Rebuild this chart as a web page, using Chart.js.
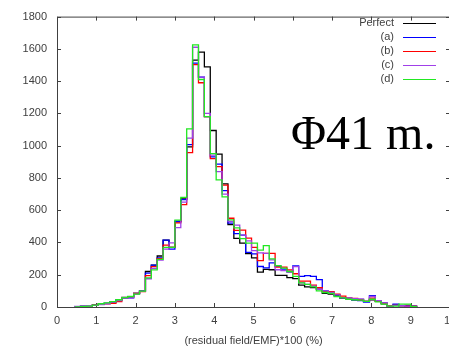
<!DOCTYPE html>
<html>
<head>
<meta charset="utf-8">
<script src="https://cdn.jsdelivr.net/npm/chart.js@4/dist/chart.umd.min.js"></script>
<style>
  html, body { margin: 0; padding: 0; background: #fff; overflow: hidden; }
  #wrap { width: 449px; height: 350px; overflow: hidden; position: relative; }
  canvas { display: block; }
</style>
</head>
<body>
<div id="wrap"><canvas id="c" width="470" height="350"></canvas></div>
<script>
// Left edges of the histogram bins (bin width 0.15)
const binStarts = [0.45,0.6,0.75,0.9,1.05,1.2,1.35,1.5,1.65,1.8,1.95,2.1,2.25,2.4,2.55,2.7,2.85,3.0,3.15,3.3,
  3.45,3.6,3.75,3.9,4.05,4.2,4.35,4.5,4.65,4.8,4.95,5.1,5.25,5.4,5.55,5.7,5.85,6.0,6.15,6.3,
  6.45,6.6,6.75,6.9,7.05,7.2,7.35,7.5,7.65,7.8,7.95,8.1,8.25,8.4,8.55,8.7,8.85,9.0];
const binEnd = 9.15;

const seriesLabels = ['Perfect', '(a)', '(b)', '(c)', '(d)'];

const perfect = [2,5,8,12,18,22,32,42,60,63, 85,100,220,260,316,414,370,530,670,992,
  1530,1580,1488,1094,947,763,510,425,396,331, 304,216,233,231,196,196,182,176,135,125,
  120,110,85,80,70,53,50,45,42,35, 45,35,20,6,12,8,10,5];
const seriesA = [2,8,8,12,18,22,30,42,55,57, 84,98,210,260,305,414,359,530,665,1006,
  1512,1425,1180,931,886,721,520,455,445,339, 329,251,243,274,253,235,220,255,190,195,
  190,170,100,90,75,57,55,45,40,30, 70,38,25,8,18,8,5,3];
const seriesB = [2,5,8,12,18,20,23,33,58,63, 85,95,195,250,300,384,369,522,635,957,
  1502,1390,1180,920,870,755,550,475,476,427, 370,288,333,333,247,247,230,206,160,160,
  135,120,95,95,80,67,55,53,45,35, 55,35,22,8,10,8,5,3];
const seriesC = [3,8,8,10,15,20,30,40,55,57, 80,98,175,240,290,359,398,492,650,1047,
  1610,1425,1200,941,839,700,530,508,445,410, 349,335,333,292,231,225,215,250,150,140,
  130,110,100,90,75,57,55,52,50,35, 65,40,25,6,10,8,5,3];
const seriesD = [0,3,5,12,20,25,33,45,58,65, 80,98,180,230,295,369,369,539,680,1104,
  1625,1410,1180,951,788,682,540,490,424,396, 396,353,380,298,257,241,220,190,150,140,
  125,100,90,85,65,57,48,45,42,35, 48,32,18,6,6,18,18,2];

const xTicks = [0,1,2,3,4,5,6,7,8,9,10];
const yTicks = [0,200,400,600,800,1000,1200,1400,1600,1800];
const xTitle = '(residual field/EMF)*100 (%)';
const bigLabel = 'Φ41 m.';

const colors = ['#000000', '#0000ff', '#ff0000', '#a040e8', '#22e822'];
const allSeries = [perfect, seriesA, seriesB, seriesC, seriesD];

function toSteps(vals) {
  const pts = [{x: binStarts[0], y: 0}];
  for (let i = 0; i < vals.length; i++) pts.push({x: binStarts[i], y: vals[i]});
  pts.push({x: binEnd, y: 0});
  return pts;
}

const datasets = allSeries.map((v, i) => ({
  label: seriesLabels[i],
  data: toSteps(v),
  borderColor: colors[i],
  borderWidth: 1.3,
  pointRadius: 0,
  fill: false,
  stepped: 'before',
  tension: 0,
  order: 5 - i
}));

const AXIS = '#404040';
const FONT = "'Liberation Sans', Arial, sans-serif";

const framePlugin = {
  id: 'frame',
  beforeDatasetsDraw(chart) {
    const {ctx, chartArea: a, scales: {x, y}} = chart;
    ctx.save();
    ctx.strokeStyle = AXIS;
    ctx.lineWidth = 1;
    ctx.beginPath();
    ctx.rect(a.left + 0.5, a.top + 0.5, a.right - a.left, a.bottom - a.top);
    ctx.stroke();
    ctx.beginPath();
    const tl = 4;
    xTicks.forEach(t => {
      const px = Math.round(x.getPixelForValue(t)) + 0.5;
      ctx.moveTo(px, a.bottom); ctx.lineTo(px, a.bottom - tl);
      ctx.moveTo(px, a.top); ctx.lineTo(px, a.top + tl);
    });
    yTicks.forEach(t => {
      const py = Math.round(y.getPixelForValue(t)) + 0.5;
      ctx.moveTo(a.left, py); ctx.lineTo(a.left + tl, py);
      ctx.moveTo(a.right, py); ctx.lineTo(a.right - tl, py);
    });
    ctx.stroke();
    ctx.restore();
  },
  afterDatasetsDraw(chart) {
    const {ctx} = chart;
    ctx.save();
    // legend
    ctx.font = '11px ' + FONT;
    ctx.textAlign = 'right';
    ctx.textBaseline = 'middle';
    seriesLabels.forEach((lab, i) => {
      const yy = 22.5 + 14 * i;
      ctx.fillStyle = AXIS;
      ctx.fillText(lab, 394, yy);
      ctx.strokeStyle = colors[i];
      ctx.lineWidth = 1;
      ctx.beginPath();
      ctx.moveTo(403, Math.round(yy) + 0.5);
      ctx.lineTo(436, Math.round(yy) + 0.5);
      ctx.stroke();
    });
    // big label
    ctx.font = "48px 'Liberation Serif', 'Times New Roman', serif";
    ctx.textAlign = 'left';
    ctx.textBaseline = 'alphabetic';
    ctx.fillStyle = '#000';
    ctx.fillText(bigLabel, 291, 149);
    ctx.restore();
  }
};

new Chart(document.getElementById('c'), {
  type: 'line',
  data: { datasets },
  options: {
    responsive: false,
    animation: false,
    layout: { padding: { top: 13, right: 20, bottom: 0, left: 0 } },
    plugins: { legend: { display: false }, tooltip: { enabled: false } },
    scales: {
      x: {
        type: 'linear', min: 0, max: 10,
        border: { display: false },
        grid: { display: false, drawTicks: false },
        afterBuildTicks: s => { s.ticks = xTicks.map(v => ({value: v})); },
        afterFit: s => { s.height = 43; },
        ticks: { color: AXIS, font: { family: FONT, size: 11 }, padding: 7, maxRotation: 0,
                 callback: v => String(v) },
        title: { display: true, text: xTitle, color: AXIS, font: { family: FONT, size: 11 }, padding: { top: 0, bottom: 2 } }
      },
      y: {
        type: 'linear', min: 0, max: 1800,
        border: { display: false },
        grid: { display: false, drawTicks: false },
        afterBuildTicks: s => { s.ticks = yTicks.map(v => ({value: v})); },
        afterFit: s => { s.width = 57; },
        ticks: { color: AXIS, font: { family: FONT, size: 11 }, padding: 10,
                 callback: v => String(v) }
      }
    }
  },
  plugins: [framePlugin]
});
</script>
</body>
</html>
